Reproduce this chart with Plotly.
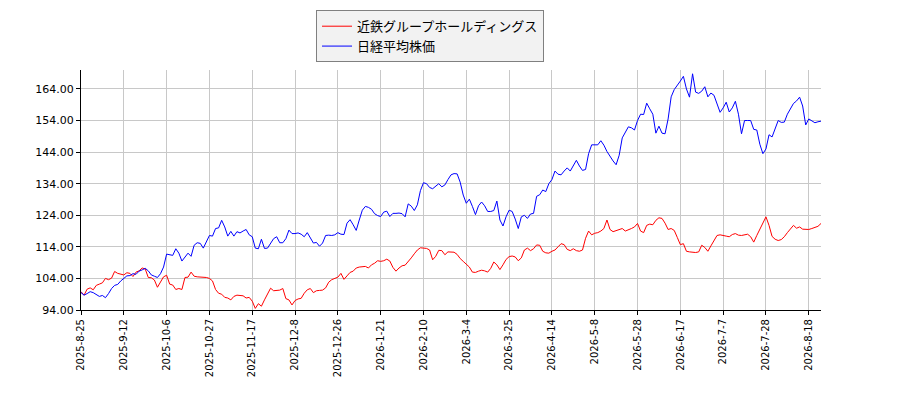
import pandas as pd
import plotly.graph_objects as go

# Japanese market holidays in the period (trading-day calendar for the x axis)
holidays = [
    "2025-09-15", "2025-09-23", "2025-10-13", "2025-11-03", "2025-11-24",
    "2025-12-31", "2026-01-01", "2026-01-02", "2026-01-12", "2026-02-11",
    "2026-02-23", "2026-03-20", "2026-04-29", "2026-05-04", "2026-05-05",
    "2026-05-06", "2026-07-20", "2026-08-11",
]
dates = pd.bdate_range("2025-08-25", "2026-08-24", freq="C", holidays=holidays)
labels = [f"{d.year}-{d.month}-{d.day}" for d in dates]
tick_labels = labels[::14]

name_kintetsu = "近鉄グループホールディングス"
name_nikkei = "日経平均株価"

kintetsu = [
    99.8, 98.7, 100.6, 101.0, 100.4, 101.8, 102.2, 102.6, 104.0, 103.6,
    104.1, 106.2, 105.6, 105.4, 105.1, 105.8, 105.6, 104.6, 106.0, 106.4,
    107.3, 107.0, 104.3, 104.2, 103.5, 101.2, 102.8, 104.5, 105.0, 102.2,
    101.9, 100.5, 100.8, 100.5, 104.3, 104.4, 106.0, 104.7, 104.5, 104.4,
    104.5, 104.3, 104.0, 103.2, 100.5, 99.3, 99.0, 98.0, 97.8, 97.2,
    98.3, 98.7, 98.6, 98.5, 97.8, 98.0, 96.8, 94.5, 96.0, 95.2,
    97.2, 99.3, 100.9, 100.1, 100.3, 100.3, 100.8, 97.6, 97.2, 95.6,
    97.0, 97.5, 97.7, 99.3, 100.4, 100.8, 99.5, 100.1, 100.2, 100.3,
    101.0, 102.8, 103.6, 104.0, 104.4, 105.6, 103.7, 104.8, 105.9, 106.3,
    107.3, 107.6, 107.8, 107.8, 107.3, 108.3, 108.8, 109.6, 109.4, 109.6,
    110.1, 109.5, 107.5, 106.3, 107.3, 108.0, 108.2, 109.2, 110.5, 111.8,
    113.0, 113.7, 113.6, 113.5, 113.0, 109.9, 111.0, 112.9, 112.8, 111.5,
    112.4, 112.3, 112.3, 111.6, 110.3, 109.4, 108.6, 107.6, 106.0, 105.9,
    106.3, 106.6, 106.4, 106.0, 107.2, 109.2, 108.3, 106.8, 108.3, 110.0,
    110.9, 111.1, 110.8, 109.6, 110.5, 113.0, 113.6, 112.8, 113.4, 114.6,
    114.5, 112.6, 112.1, 112.0, 112.6, 113.0, 114.0, 115.0, 114.7, 113.2,
    112.8, 113.4, 112.8, 112.6, 113.0, 116.7, 119.0, 117.8, 118.3, 118.5,
    119.0, 119.8, 122.5, 119.5, 118.8, 119.2, 119.4, 119.8, 119.0, 119.3,
    119.8, 120.3, 121.4, 119.0, 118.5, 120.8, 121.2, 121.0, 122.4, 123.2,
    123.0, 121.5, 119.5, 119.8, 119.2, 117.0, 114.7, 115.0, 112.6, 112.4,
    112.3, 112.2, 112.4, 114.5, 113.8, 112.6, 114.3, 115.8, 117.6, 117.8,
    117.7, 117.4, 117.2, 117.9, 118.2, 117.7, 117.6, 117.8, 118.0, 117.2,
    115.5, 117.6, 119.7, 121.4, 123.5, 120.8, 117.3, 116.4, 116.0, 116.3,
    117.2, 118.5, 119.8, 120.8, 119.9, 120.3, 119.6, 119.5, 119.5, 119.8,
    120.2, 120.5, 121.4,
]

nikkei = [
    99.5, 98.7, 99.2, 99.8, 99.5, 99.0, 98.3, 98.6, 97.9, 99.2,
    100.8, 101.8, 102.1, 103.2, 104.1, 104.8, 104.9, 105.5, 105.3, 106.3,
    106.7, 107.2, 106.4, 105.1, 104.7, 104.3, 105.5, 107.6, 111.7, 111.6,
    111.3, 113.4, 112.0, 109.5, 110.6, 112.0, 111.0, 114.5, 115.3, 115.1,
    113.6, 115.4, 117.6, 117.4, 119.8, 120.0, 122.4, 120.3, 117.4, 118.9,
    117.4, 118.8, 118.4, 119.0, 119.5, 117.8, 117.2, 113.6, 113.4, 116.4,
    113.5, 113.6, 115.2, 116.6, 117.2, 115.3, 115.3, 116.6, 119.3, 118.2,
    118.2, 118.4, 118.0, 117.2, 118.5, 117.0, 115.2, 115.4, 114.2, 115.2,
    117.6, 117.7, 117.6, 117.8, 118.5, 118.0, 117.9, 121.5, 122.6, 121.0,
    119.2, 122.5, 125.6, 126.8, 126.5, 125.9, 124.5, 123.9, 123.6, 125.0,
    125.3, 123.6, 124.6, 124.6, 124.7, 124.5, 123.5, 127.6, 126.9, 125.5,
    127.3, 131.8, 134.3, 134.0, 132.8, 132.4, 133.2, 134.0, 133.0, 133.6,
    135.3, 136.8, 137.2, 137.1, 134.5, 130.4, 127.8, 129.1, 126.8, 124.2,
    127.0, 128.2, 127.0, 125.2, 125.2, 125.5, 128.5, 122.5, 120.6, 123.5,
    125.6, 125.2, 122.8, 119.8, 123.5, 124.0, 123.0, 124.4, 124.6, 130.0,
    130.5, 132.0, 131.5, 134.0, 135.3, 138.0, 137.0, 136.8, 138.0, 139.0,
    138.0, 139.8, 141.4, 139.6, 138.2, 138.5, 143.5, 146.3, 146.2, 146.3,
    147.6, 146.2, 144.2, 142.5, 141.2, 140.0, 143.0, 148.5, 150.5, 152.0,
    151.7, 151.0, 154.0, 156.0, 155.9, 159.5, 157.7, 156.0, 150.0, 152.2,
    150.0, 149.8, 154.5, 161.5, 163.8, 165.0, 166.5, 168.0, 164.0, 161.4,
    168.8, 163.0, 162.6, 163.3, 164.7, 161.5, 162.7, 162.0, 159.4, 156.6,
    158.0, 159.8, 156.7, 158.0, 160.1, 156.0, 149.8, 154.0, 154.0, 154.0,
    151.2, 151.0, 146.5, 143.5, 145.0, 149.5, 148.8, 151.5, 154.0, 153.4,
    153.5, 156.0, 157.8, 159.4, 160.2, 161.4, 158.6, 152.6, 154.5, 154.0,
    153.3, 153.6, 153.8,
]

y_ticks = [94, 104, 114, 124, 134, 144, 154, 164]

font_family = "DejaVu Sans, Noto Sans CJK JP"

fig = go.Figure()
fig.add_trace(go.Scatter(x=labels, y=kintetsu, mode="lines", name=name_kintetsu,
                         line=dict(color="#ff0000", width=1)))
fig.add_trace(go.Scatter(x=labels, y=nikkei, mode="lines", name=name_nikkei,
                         line=dict(color="#0000ff", width=1)))

# the page body adds an 8px offset, so the figure is 8px smaller on each side
fig.update_layout(
    width=892, height=392,
    margin=dict(l=73, r=79, t=62, b=90, autoexpand=False),
    paper_bgcolor="white", plot_bgcolor="white",
    font=dict(family=font_family, color="black"),
    legend=dict(x=0.3176, y=1.249, xanchor="left", yanchor="top",
                bgcolor="#f2f2f2", bordercolor="#808080", borderwidth=1,
                font=dict(size=13)),
)
fig.update_xaxes(
    type="category", range=[0, len(labels) - 1],
    tickmode="array", tickvals=tick_labels, ticktext=tick_labels,
    tickangle=-90, tickfont=dict(size=10),
    showgrid=True, gridcolor="#c8c8c8", gridwidth=1,
    showline=True, linecolor="black", linewidth=1,
    ticks="outside", ticklen=4, tickcolor="black",
)
fig.update_yaxes(
    range=[94, 170], tickmode="array", tickvals=y_ticks, tickformat=".2f",
    tickfont=dict(size=11),
    showgrid=True, gridcolor="#c8c8c8", gridwidth=1, zeroline=False,
    showline=True, linecolor="black", linewidth=1,
    ticks="outside", ticklen=4, tickcolor="black",
)

fig.write_html("out.html")
